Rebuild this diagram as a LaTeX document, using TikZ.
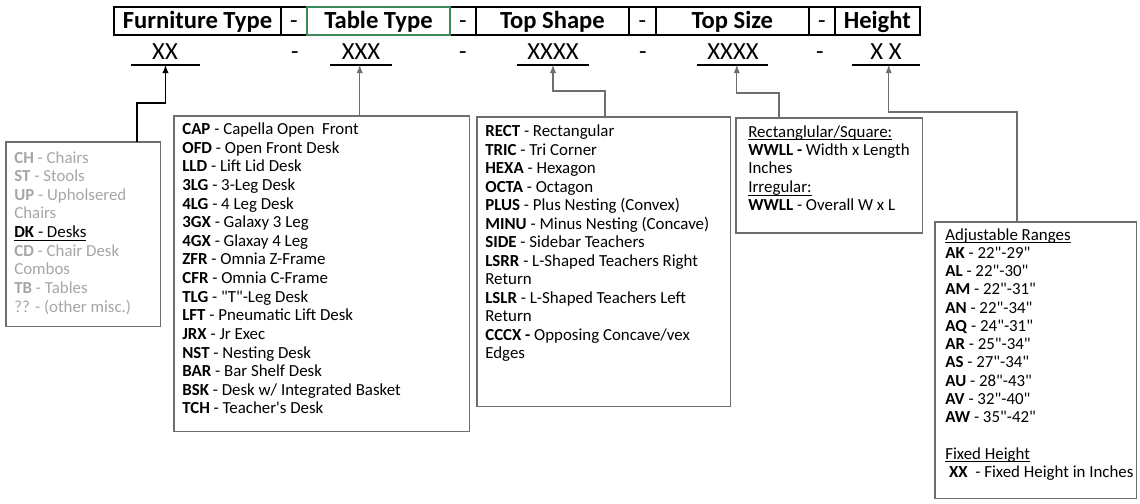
\documentclass[tikz,border=0pt]{standalone}
\usepackage{fontspec}
\setmainfont{Carlito}
\usetikzlibrary{positioning,calc}
\definecolor{fade}{HTML}{A6A6A6}
\definecolor{boxline}{HTML}{6E6E6E}
\definecolor{xlgreen}{HTML}{3C8A5A}
\newcommand{\kv}[2]{\textbf{#1} - #2}
\newcommand{\uln}[1]{\underline{\smash{#1}}\vphantom{#1}}
\newcommand{\dq}{\textquotedbl}
\tikzset{
  hcell/.style={draw, line width=0.9pt, outer sep=0pt, inner sep=0pt, minimum height=0.56cm,
    text height=9pt, text depth=0pt, font=\fontsize{14}{16}\selectfont\bfseries},
  hdash/.style={hcell, minimum width=0.52cm, font=\fontsize{14}{16}\selectfont},
  code/.style={anchor=base, inner sep=0pt, font=\fontsize{14}{16}\selectfont},
  infobox/.style={draw=boxline, line width=0.6pt, anchor=north west, outer sep=0pt, inner sep=0pt},
  itemtext/.style={anchor=north west, inner sep=0pt, align=left, font=\fontsize{9.6}{#1}\selectfont},
  conn/.style={draw=boxline, line width=0.6pt, ->},
}
\begin{document}
\begin{tikzpicture}[x=0.02cm, y=-0.02cm, >=latex]
\useasboundingbox (0,0) rectangle (1140,504);
% header row
\node[hcell, minimum width=3.34cm, anchor=north west] (hft) at (114,7) {Furniture Type};
\node[hdash, right=0pt of hft] (hd1) {-};
\node[hcell, minimum width=2.86cm, right=0pt of hd1] (htt) {Table Type};
\node[hdash, right=0pt of htt] (hd2) {-};
\node[hcell, minimum width=3.06cm, right=0pt of hd2] (hts) {Top Shape};
\node[hdash, minimum width=0.54cm, right=0pt of hts] (hd3) {-};
\node[hcell, minimum width=3.06cm, right=0pt of hd3] (hsz) {Top Size};
\node[hdash, right=0pt of hsz] (hd4) {-};
\node[hcell, minimum width=1.7cm, right=0pt of hd4] (hht) {Height};
\draw[xlgreen, line width=0.9pt] (htt.south west) rectangle (htt.north east);
% code row
\node[code] (cft) at (165,59) {XX};
\node[code] (cd1) at (295,59) {-};
\node[code] (ctt) at (361,59) {XXX};
\node[code] (cd2) at (463,59) {-};
\node[code] (cts) at (553,59) {XXXX};
\node[code] (cd3) at (643,59) {-};
\node[code] (csz) at (733,59) {XXXX};
\node[code] (cd4) at (820,59) {-};
\node[code] (cht) at (886,59) {X X};
\draw[line width=0.6pt] (131,65) -- coordinate (uft) (200,65);
\draw[line width=0.6pt] (330,65) -- coordinate[pos=.48] (utt) (392,65);
\draw[line width=0.6pt] (517,65) -- coordinate (uts) (589,65);
\draw[line width=0.6pt] (697,65) -- coordinate[pos=.56] (usz) (768,65);
\draw[line width=0.6pt] (852,65) -- coordinate[pos=.54] (uht) (920,65);
% boxes
\node[infobox, minimum width=3.1cm, minimum height=3.7cm] (fbox) at (6,142) {};
\node[infobox, minimum width=5.92cm, minimum height=6.32cm] (tbox) at (174,116) {};
\node[infobox, minimum width=5.08cm, minimum height=5.8cm] (sbox) at (477,117) {};
\node[infobox, minimum width=3.74cm, minimum height=2.3cm] (zbox) at (736,118) {};
\node[infobox, minimum width=4.04cm, minimum height=5.54cm] (hbox) at (935,222) {};
\node[itemtext=10.6, text=fade] (flist) at (14,151) {\kv{CH}{Chairs}\\
  \kv{ST}{Stools}\\
  \kv{UP}{Upholsered}\\
  Chairs\\
  \textcolor{black}{\uln{\kv{DK}{Desks}}}\\
  \kv{CD}{Chair Desk}\\
  Combos\\
  \kv{TB}{Tables}\\
  ?? - (other misc.)};
\node[itemtext=10.6] (tlist) at (182,122.5) {\kv{CAP}{Capella Open\ \ Front}\\
  \kv{OFD}{Open Front Desk}\\
  \kv{LLD}{Lift Lid Desk}\\
  \kv{3LG}{3-Leg Desk}\\
  \kv{4LG}{4 Leg Desk}\\
  \kv{3GX}{Galaxy 3 Leg}\\
  \kv{4GX}{Glaxay 4 Leg}\\
  \kv{ZFR}{Omnia Z-Frame}\\
  \kv{CFR}{Omnia C-Frame}\\
  \kv{TLG}{\dq T\dq-Leg Desk}\\
  \kv{LFT}{Pneumatic Lift Desk}\\
  \kv{JRX}{Jr Exec}\\
  \kv{NST}{Nesting Desk}\\
  \kv{BAR}{Bar Shelf Desk}\\
  \kv{BSK}{Desk w/ Integrated Basket}\\
  \kv{TCH}{Teacher\textquotesingle s Desk}};
\node[itemtext=10.55] (slist) at (485,124.5) {\kv{RECT}{Rectangular}\\
  \kv{TRIC}{Tri Corner}\\
  \kv{HEXA}{Hexagon}\\
  \kv{OCTA}{Octagon}\\
  \kv{PLUS}{Plus Nesting (Convex)}\\
  \kv{MINU}{Minus Nesting (Concave)}\\
  \kv{SIDE}{Sidebar Teachers}\\
  \kv{LSRR}{L-Shaped Teachers Right}\\
  Return\\
  \kv{LSLR}{L-Shaped Teachers Left}\\
  Return\\
  \textbf{CCCX -} Opposing Concave/vex\\
  Edges};
\node[itemtext=10.5] (zlist) at (748,125) {\uln{Rectanglular/Square:}\\
  \textbf{WWLL -} Width x Length\\
  Inches\\
  \uln{Irregular:}\\
  \kv{WWLL}{Overall W x L}};
\node[itemtext=10.4] (hlist) at (945,228) {\uln{Adjustable Ranges}\\
  \kv{AK}{22\dq-29\dq}\\
  \kv{AL}{22\dq-30\dq}\\
  \kv{AM}{22\dq-31\dq}\\
  \kv{AN}{22\dq-34\dq}\\
  \kv{AQ}{24\dq-31\dq}\\
  \kv{AR}{25\dq-34\dq}\\
  \kv{AS}{27\dq-34\dq}\\
  \kv{AU}{28\dq-43\dq}\\
  \kv{AV}{32\dq-40\dq}\\
  \kv{AW}{35\dq-42\dq}\\
  \\
  \uln{Fixed Height}\\
  \ \textbf{XX}\ \ - Fixed Height in Inches};
% connectors
\draw[conn, draw=black] ($(fbox.north west)+(131,0)$) -- ++(0,-39) -| (uft);
\draw[conn] (tbox.north -| utt) -- (utt);
\draw[conn] ($(sbox.north west)+(128,0)$) -- ++(0,-26) -| (uts);
\draw[conn] ($(zbox.north west)+(43,0)$) -- ++(0,-25) -| (usz);
\draw[conn] ($(hbox.north west)+(82,0)$) -- ++(0,-110) -| (uht);
\end{tikzpicture}
\end{document}
